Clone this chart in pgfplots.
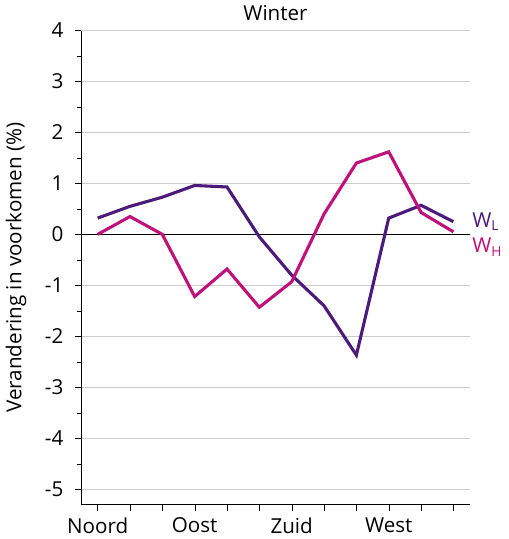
\documentclass[border=0pt]{standalone}
\usepackage{pgfplots}
\pgfplotsset{compat=1.18}
\usepackage{fontspec}
\setmainfont{Open Sans}
\definecolor{wl}{HTML}{4B1A7A}
\definecolor{wh}{HTML}{C0107A}
\begin{document}
\begin{tikzpicture}
\begin{axis}[
  scale only axis, width=226pt, height=276pt,
  xmin=-0.5, xmax=11.5, ymin=-5.3, ymax=4,
  axis x line*=bottom, axis y line*=left,
  x axis line style={-}, y axis line style={-},
  xtick={0,...,11}, xticklabels={Noord,,,Oost,,,Zuid,,,West,,},
  ytick={-5,...,4}, minor ytick={-4.5,-3.5,...,3.5},
  yticklabel style={/pgf/number format/assume math mode=true, xshift=-3pt},
  ymajorgrids, grid style={gray!40},
  tick style={black}, major tick length=4pt, minor tick length=2.5pt,
  tick align=outside,
  title={Winter}, title style={font=\large, yshift=-4pt},
  ylabel={Verandering in voorkomen (\%)},
  ylabel style={yshift=4pt},
  ticklabel style={font=\large}, label style={font=\large},
  clip=false,
]
\addplot[gray!40, forget plot] coordinates {(-0.5,4) (11.5,4)};
\addplot[black, forget plot] coordinates {(-0.5,0) (11.5,0)};
\addplot[wl, line width=1.8pt] coordinates {(0,0.32) (1,0.55) (2,0.73) (3,0.96) (4,0.93) (5,-0.05) (6,-0.8) (7,-1.4) (8,-2.37) (9,0.32) (10,0.57) (11,0.25)};
\addplot[wh, line width=1.8pt] coordinates {(0,0.0) (1,0.35) (2,0.0) (3,-1.22) (4,-0.68) (5,-1.43) (6,-0.93) (7,0.4) (8,1.4) (9,1.62) (10,0.43) (11,0.05)};
\node[wl, anchor=west, font=\large] at (axis cs:11.4,0.25) {W$_\mathrm{L}$};
\node[wh, anchor=west, font=\large] at (axis cs:11.4,-0.25) {W$_\mathrm{H}$};
\end{axis}
\end{tikzpicture}
\end{document}
